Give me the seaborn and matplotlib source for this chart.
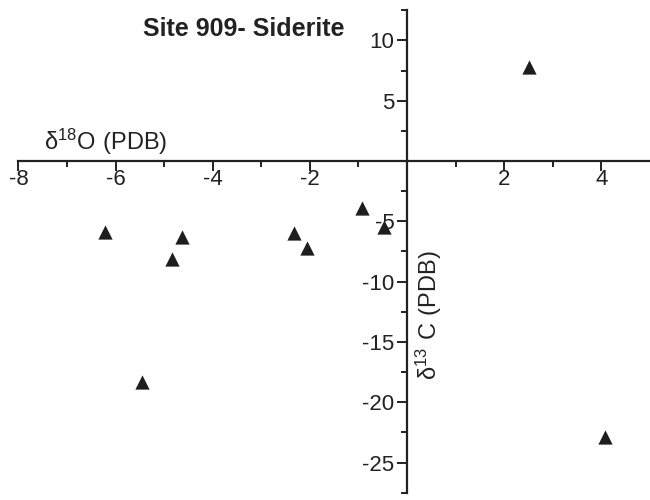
import matplotlib
matplotlib.use("Agg")
import matplotlib.pyplot as plt
import seaborn as sns
import pandas as pd
from matplotlib.ticker import FixedLocator, FixedFormatter

# Isotope data for siderite samples
d18o = [2.5, -6.22, -4.64, -4.84, -2.32, -2.05, -0.93, -0.48, -5.45, 4.07]
d13c = [7.8, -5.85, -6.3, -8.1, -6.0, -7.25, -3.9, -5.5, -18.3, -22.9]

x_major = [-8, -6, -4, -2, 2, 4]
x_minor = [-7, -5, -3, -1, 1, 3]
y_major = [10, 5, -5, -10, -15, -20, -25]
y_minor = [12.5, 7.5, 2.5, -2.5, -7.5, -12.5, -17.5, -22.5, -27.5]

sns.set_style("ticks")
plt.rcParams["font.family"] = ["Liberation Sans", "DejaVu Sans"]

df = pd.DataFrame({"d18O": d18o, "d13C": d13c})

fig = plt.figure(figsize=(6.5, 5), dpi=100)
ax = fig.add_axes([0.0283, 0.0146, 0.9717, 0.965])

sns.scatterplot(data=df, x="d18O", y="d13C", marker="^", s=105,
                color="#1e1e1e", edgecolor="#1e1e1e", linewidth=0, ax=ax,
                clip_on=False, zorder=3)

ax.set_xlim(-8, 5)
ax.set_ylim(-27.5, 12.5)

# Axes crossing at the origin
for side in ("top", "right"):
    ax.spines[side].set_visible(False)
ax.spines["left"].set_position(("data", 0))
ax.spines["bottom"].set_position(("data", 0))
for side in ("left", "bottom"):
    ax.spines[side].set_linewidth(1.6)
    ax.spines[side].set_color("#222222")

ax.xaxis.set_major_locator(FixedLocator(x_major))
ax.xaxis.set_major_formatter(FixedFormatter([str(v) for v in x_major]))
ax.xaxis.set_minor_locator(FixedLocator(x_minor))
ax.yaxis.set_major_locator(FixedLocator(y_major))
ax.yaxis.set_major_formatter(FixedFormatter([str(v) for v in y_major]))
ax.yaxis.set_minor_locator(FixedLocator(y_minor))

ax.tick_params(axis="both", which="both", bottom=True, left=True,
               top=False, right=False)
ax.tick_params(axis="both", which="major", direction="out", length=7,
               width=1.4, color="#222222", labelsize=16, labelcolor="#222222")
ax.tick_params(axis="x", which="major", pad=-1)
ax.tick_params(axis="y", which="major", pad=2)
ax.tick_params(axis="both", which="minor", direction="out", length=4,
               width=1.4, color="#222222")

ax.set_xlabel("")
ax.set_ylabel("")

ax.text(-7.48, 1.58, r"$\mathregular{\delta^{18}O\ (PDB)}$", fontsize=17,
        color="#222222", ha="left", va="center")
ax.text(0.45, -12.8, r"$\mathregular{\delta^{13}\ C\ (PDB)}$", fontsize=17,
        color="#222222", rotation=90, ha="center", va="center")
ax.text(-3.37, 10.95, "Site 909- Siderite", fontsize=18, fontweight="bold",
        color="#222222", ha="center", va="center")

fig.savefig("out.png", dpi=100)
